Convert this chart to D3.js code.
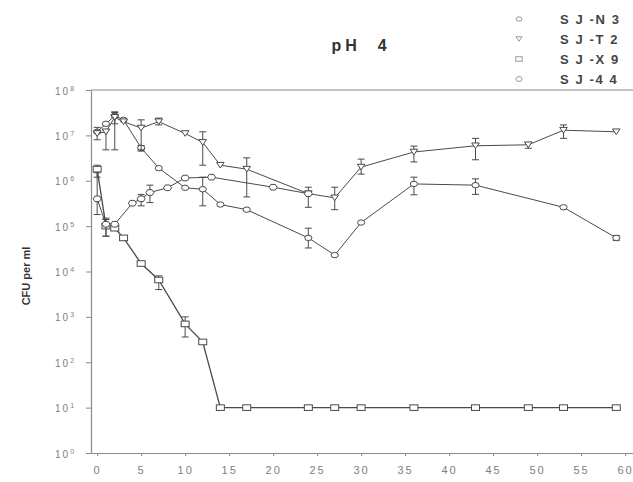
<!DOCTYPE html>
<html>
<head>
<meta charset="utf-8">
<script src="https://cdn.jsdelivr.net/npm/d3@7"></script>
<style>
  body { margin: 0; background: #fff; }
  svg { font-family: "Liberation Sans", Arial, sans-serif; }
</style>
</head>
<body>
<svg id="chart" width="633" height="482"></svg>
<script>
// survival at pH 4, CFU per ml over days

var seriesNames = ["S J -N 3", "S J -T 2", "S J -X 9", "S J -4 4"];

var n3Day = [0, 1, 2, 3, 5, 7, 10, 12, 14, 17, 24, 27, 30, 36, 43, 53, 59];
var n3Cfu = [1.2e7, 1.8e7, 2.7e7, 2.2e7, 5.3e6, 1.9e6, 7e5, 6.5e5, 3e5, 2.3e5, 5.5e4, 2.3e4, 1.2e5, 8.5e5, 8e5, 2.6e5, 5.5e4];
var n3Err = [null, null, [4.8e6, 3.3e7], null, [4.5e6, 6e6], null, null, [2.8e5, 1.2e6], null, null, [3.3e4, 9e4], null, null, [4.9e5, 1.2e6], [5e5, 1.1e6], null, [4.8e4, 6.2e4]];

var t2Day = [0, 1, 2, 3, 5, 7, 10, 12, 14, 17, 24, 27, 30, 36, 43, 49, 53, 59];
var t2Cfu = [1.1e7, 1.2e7, 2.5e7, 2e7, 1.45e7, 2e7, 1.1e7, 7e6, 2.2e6, 1.8e6, 5.2e5, 4.2e5, 2e6, 4.3e6, 5.9e6, 6.2e6, 1.3e7, 1.2e7];
var t2Err = [[8e6, 1.5e7], [4.8e6, 1.3e7], [1.8e7, 3.2e7], null, [4.8e6, 2.2e7], [1.7e7, 2.4e7], null, [2.2e6, 1.2e7], null, [4.4e5, 3.2e6], [2.6e5, 7.2e5], [2.3e5, 7.2e5], [1.4e6, 3e6], [2.6e6, 5.8e6], [2.9e6, 8.6e6], [5.2e6, 7e6], [8.6e6, 1.7e7], null];

var x9Day = [0, 1, 2, 3, 5, 7, 10, 12, 14, 17, 24, 27, 30, 36, 43, 49, 53, 59];
var x9Cfu = [1.8e6, 1e5, 9e4, 5.5e4, 1.5e4, 6.5e3, 700, 280, 10, 10, 10, 10, 10, 10, 10, 10, 10, 10];
var x9Err = [[1.2e6, 2.2e6], [6e4, 1.4e5], null, null, null, [4e3, 8e3], [360, 1000], null, null, null, null, null, null, null, null, null, null, null];

var s44Day = [0, 1, 2, 4, 5, 6, 8, 10, 13, 20, 24];
var s44Cfu = [4e5, 1.1e5, 1.1e5, 3.2e5, 4e5, 5.5e5, 7e5, 1.15e6, 1.2e6, 7.2e5, 5.2e5];
var s44Err = [[1.8e5, 1.5e6], [6e4, 1.5e5], null, null, [2.8e5, 5e5], [3.3e5, 8e5], null, null, null, null, null];

var xTicks = [0, 5, 10, 15, 20, 25, 30, 35, 40, 45, 50, 55, 60];
var yExp = [0, 1, 2, 3, 4, 5, 6, 7, 8];

var svg = d3.select("#chart");
var plotL = 91, plotR = 633, plotT = 90, plotB = 453;
var lineCol = "#4a4a4a", axisCol = "#8a8a8a", labCol = "#808080";

var x = d3.scaleLinear().domain([-0.7, 60.9]).range([plotL, plotR]);
var y = d3.scaleLog().domain([1, 1e8]).range([plotB, plotT]);

// marker shapes, s = scale
function marker(g, kind, s) {
  s = s || 1;
  if (kind == 0) {
    g.append("ellipse").attr("rx", 3.6 * s).attr("ry", 2.7 * s);
  } else if (kind == 1) {
    g.append("path").attr("d", "M" + (-3.8 * s) + "," + (-2.8 * s) + "L" + (3.8 * s) + "," + (-2.8 * s) + "L0," + (2.8 * s) + "Z");
  } else if (kind == 2) {
    g.append("rect").attr("x", -4 * s).attr("y", -2.8 * s).attr("width", 8 * s).attr("height", 5.6 * s);
  } else {
    g.append("path").attr("d", "M" + (-4 * s) + ",0L" + (-2.2 * s) + "," + (-2.8 * s) + "L" + (2.2 * s) + "," + (-2.8 * s) +
      "L" + (4 * s) + ",0L" + (2.2 * s) + "," + (2.8 * s) + "L" + (-2.2 * s) + "," + (2.8 * s) + "Z");
  }
  g.selectAll("*").attr("fill", "#fff").attr("stroke", lineCol).attr("stroke-width", 1);
}

// axes
svg.append("line").attr("x1", plotL).attr("x2", plotR).attr("y1", plotT).attr("y2", plotT)
  .attr("stroke", axisCol).attr("stroke-width", 1.2);

var yAxis = svg.append("g")
  .attr("transform", "translate(" + plotL + ",0)")
  .call(d3.axisLeft(y).tickValues(yExp.map(function(e) { return Math.pow(10, e); }))
    .tickSize(5).tickSizeOuter(0).tickFormat(""));
yAxis.select(".domain").attr("stroke", axisCol).attr("stroke-width", 1.2);
yAxis.selectAll(".tick line").attr("stroke", axisCol);
yAxis.selectAll(".tick").each(function(d, i) {
  var t = d3.select(this).append("text")
    .attr("x", -36).attr("y", 4)
    .attr("fill", labCol).attr("font-size", 10).attr("text-anchor", "start")
    .style("letter-spacing", "2px");
  t.append("tspan").text("10");
  t.append("tspan").attr("dy", -4).attr("font-size", 7).text(yExp[i]);
});

var xAxis = svg.append("g")
  .attr("transform", "translate(0," + plotB + ")")
  .call(d3.axisBottom(x).tickValues(xTicks).tickSize(3).tickSizeOuter(0));
xAxis.select(".domain").attr("stroke", axisCol).attr("stroke-width", 1.2);
xAxis.selectAll(".tick line").attr("stroke", axisCol);
xAxis.selectAll(".tick text")
  .attr("fill", labCol).attr("font-size", 11).attr("dy", "1.35em")
  .style("letter-spacing", "2px");

svg.append("text")
  .attr("transform", "translate(30,276) rotate(-90)")
  .attr("text-anchor", "middle").attr("font-size", 11).attr("font-weight", "bold")
  .attr("fill", "#333").text("CFU per ml");

svg.append("text")
  .attr("x", 361).attr("y", 51).attr("text-anchor", "middle")
  .attr("font-size", 16).attr("font-weight", "bold").attr("fill", "#333")
  .style("letter-spacing", "4px").attr("xml:space", "preserve").text("pH  4");

// series
var series = [
  { day: n3Day, cfu: n3Cfu, err: n3Err },
  { day: t2Day, cfu: t2Cfu, err: t2Err },
  { day: x9Day, cfu: x9Cfu, err: x9Err },
  { day: s44Day, cfu: s44Cfu, err: s44Err }
];

var line = d3.line().x(function(d) { return x(d.t); }).y(function(d) { return y(d.v); });

series.forEach(function(s, k) {
  var pts = s.day.map(function(t, i) { return { t: t, v: s.cfu[i], e: s.err[i] }; });
  var g = svg.append("g");
  g.append("path").datum(pts).attr("d", line)
    .attr("fill", "none").attr("stroke", lineCol).attr("stroke-width", k == 2 ? 1.3 : 1);

  pts.filter(function(p) { return p.e; }).forEach(function(p) {
    var cx = x(p.t), y1 = y(p.e[0]), y2 = y(p.e[1]);
    g.append("line").attr("x1", cx).attr("x2", cx).attr("y1", y1).attr("y2", y2)
      .attr("stroke", lineCol);
    g.append("line").attr("x1", cx - 3.5).attr("x2", cx + 3.5).attr("y1", y1).attr("y2", y1)
      .attr("stroke", lineCol);
    g.append("line").attr("x1", cx - 3.5).attr("x2", cx + 3.5).attr("y1", y2).attr("y2", y2)
      .attr("stroke", lineCol);
  });

  pts.forEach(function(p) {
    var m = g.append("g").attr("transform", "translate(" + x(p.t) + "," + y(p.v) + ")");
    marker(m, k);
  });
});

// legend
var legendY = [19, 39, 59, 79];
seriesNames.forEach(function(name, k) {
  var m = svg.append("g").attr("transform", "translate(519," + legendY[k] + ")");
  marker(m, k, 0.8);
  m.selectAll("*").attr("stroke", "#999");
  svg.append("text").attr("x", 560).attr("y", legendY[k] + 5)
    .attr("font-size", 13).attr("font-weight", "bold").attr("fill", "#444")
    .attr("xml:space", "preserve").style("letter-spacing", "1.6px").text(name);
});
</script>
</body>
</html>
